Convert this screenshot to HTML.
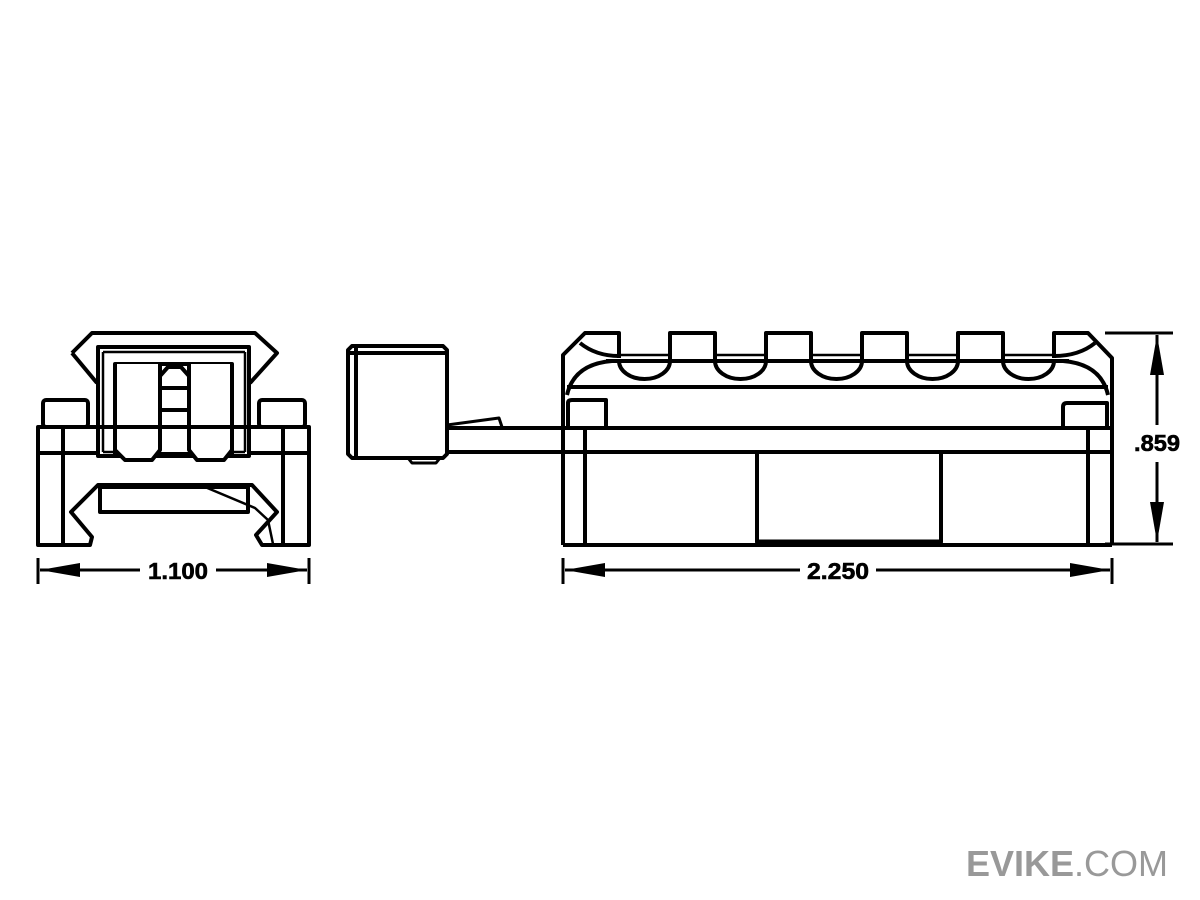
<!DOCTYPE html>
<html><head><meta charset="utf-8"><style>
html,body{margin:0;padding:0;background:#fff;width:1200px;height:900px;overflow:hidden}
svg{display:block}
</style></head><body>
<svg width="1200" height="900" viewBox="0 0 1200 900" xmlns="http://www.w3.org/2000/svg">
<g fill="none" stroke="#000" stroke-width="4" stroke-linejoin="round">
<!-- LEFT VIEW -->
<path d="M72,353 L92,333 L255,333 L277,353 L250,383"/>
<path d="M72,353 L97,383"/>
<rect x="98" y="347" width="151" height="109"/>
<path d="M103,352 H245 M103,352 V452 M245,352 V452 M103,452 H245" stroke-width="2.5"/>
<rect x="115" y="364" width="117" height="90" fill="#fff"/>
<path d="M115,364 V450 L125,460 H152 L160,450 V364" fill="#fff"/>
<path d="M189,364 V450 L197,460 H224 L232,450 V364" fill="#fff"/>
<path d="M160,376 L168,367 H181 L189,376"/>
<path d="M160,388 H189 M160,410 H189"/>
<rect x="43" y="400" width="45" height="27" rx="3"/>
<rect x="259" y="400" width="46" height="27" rx="3"/>
<path d="M38,427 V545 H90 L92,537 L71,512 L98,485 H252 L277,512 L256,535 L262,545 H309 V427 Z"/>
<path d="M38,453 H98 M249,453 H309"/>
<path d="M63,427 V545 M283,427 V545"/>
<path d="M38,427 H98 M249,427 H309"/>
<rect x="100" y="487" width="148" height="25"/>
<path d="M205,487 L255,508 L268,520 L273,544" stroke-width="2.5"/>
<!-- MIDDLE -->
<path d="M352,346 H443 L447,350 V454 L443,458 H352 L348,454 V350 Z"/>
<path d="M356,348 V456 M350,353 H446"/>
<path d="M408,458 L412,463 H436 L440,458" stroke-width="3"/>
<path d="M447,425 L499,418 L502,427" stroke-width="3"/>
<path d="M447,428 H1112"/>
<path d="M447,452 H1112"/>
<!-- RIGHT VIEW -->
<path d="M563,545 V355 L585,333 H619 V358"/>
<path d="M1112,545 V358 L1088,333 H1054 V358"/>
<path d="M563,545 H1112"/>
<path d="M567,387 H1108"/>
<path d="M567,395 Q574,364 612,361"/>
<path d="M1108,395 Q1101,364 1063,361"/>
<path d="M580,343 Q596,356 619,356"/>
<path d="M1095,343 Q1079,356 1054,356"/>
<path d="M606,361 H1069" stroke-width="4"/>
<path d="M619,361 A25.5,18 0 0 0 670,361 M715,361 A25.5,18 0 0 0 766,361 M811,361 A25.5,18 0 0 0 862,361 M907,361 A25.5,18 0 0 0 958,361 M1003,361 A25.5,18 0 0 0 1054,361"/>
<path d="M670,361 V333 H715 V361 M766,361 V333 H811 V361 M862,361 V333 H907 V361 M958,361 V333 H1003 V361"/>
<path d="M619,355 H670 M715,355 H766 M811,355 H862 M907,355 H958 M1003,355 H1054" stroke-width="2.5"/>
<path d="M568,427 V403 Q568,400 572,400 H606 V427"/>
<path d="M1107,427 V403 H1067 Q1063,403 1063,407 V427"/>
<path d="M585,428 V545 M1088,428 V545"/>
<rect x="757" y="452" width="184" height="90"/>
<path d="M757,542 H941" stroke-width="5"/>
<!-- DIMENSIONS -->
<path d="M38,558 V584 M309,558 V584 M563,558 V584 M1112,558 V584" stroke-width="3"/>
<path d="M40,570 H140 M216,570 H307" stroke-width="3"/>
<path d="M565,570 H800 M876,570 H1110" stroke-width="3"/>
<path d="M1105,333 H1173 M1105,544 H1173" stroke-width="3"/>
<path d="M1157,335 V425 M1157,462 V542" stroke-width="3"/>
</g>
<g fill="#000">
<path d="M40,570 L80,563 L80,577 Z"/>
<path d="M307,570 L267,563 L267,577 Z"/>
<path d="M565,570 L605,563 L605,577 Z"/>
<path d="M1110,570 L1070,563 L1070,577 Z"/>
<path d="M1157,335 L1150,375 L1164,375 Z"/>
<path d="M1157,542 L1150,502 L1164,502 Z"/>
</g>
<g font-family="Liberation Sans, sans-serif" font-weight="bold" font-size="23" text-anchor="middle" fill="#000" stroke="#000" stroke-width="0.6">
<text x="178" y="579" textLength="60" lengthAdjust="spacingAndGlyphs">1.100</text>
<text x="838" y="579" textLength="62" lengthAdjust="spacingAndGlyphs">2.250</text>
<text x="1157" y="451" textLength="46" lengthAdjust="spacingAndGlyphs">.859</text>
</g>
<text x="1168" y="876" text-anchor="end" font-family="Liberation Sans, sans-serif" font-size="36" fill="#999"><tspan font-weight="bold">EVIKE</tspan>.COM</text>
</svg>
</body></html>
